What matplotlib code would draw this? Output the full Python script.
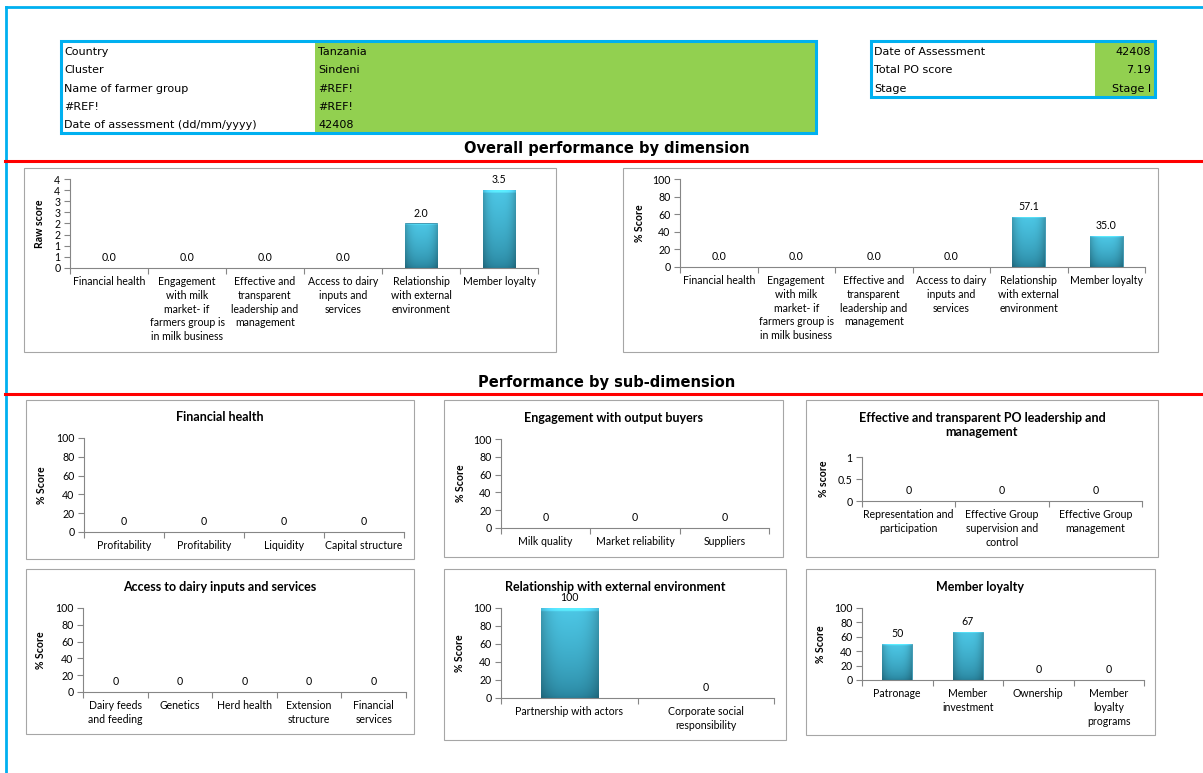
import numpy as np
import matplotlib.pyplot as plt
from matplotlib.patches import Rectangle

W, H = 1203, 773

# header tables
info_labels = ['Country', 'Cluster', 'Name of farmer group', '#REF!', 'Date of assessment (dd/mm/yyyy)']
info_values = ['Tanzania', 'Sindeni', '#REF!', '#REF!', '42408']
summary_labels = ['Date of Assessment', 'Total PO score', 'Stage']
summary_values = ['42408', '7.19', 'Stage I']

# overall performance by dimension
dim_labels = ['Financial health',
              'Engagement\nwith milk\nmarket- if\nfarmers group is\nin milk business',
              'Effective and\ntransparent\nleadership and\nmanagement',
              'Access to dairy\ninputs and\nservices',
              'Relationship\nwith external\nenvironment',
              'Member loyalty']
dim_raw = [0.0, 0.0, 0.0, 0.0, 2.0, 3.5]
dim_pct = [0.0, 0.0, 0.0, 0.0, 57.1, 35.0]

# sub-dimensions
fin_labels = ['Profitability', 'Profitability', 'Liquidity', 'Capital structure']
fin_vals = [0, 0, 0, 0]
eng_labels = ['Milk quality', 'Market reliability', 'Suppliers']
eng_vals = [0, 0, 0]
lead_labels = ['Representation and\nparticipation', 'Effective Group\nsupervision and\ncontrol',
               'Effective Group\nmanagement']
lead_vals = [0, 0, 0]
acc_labels = ['Dairy feeds\nand feeding', 'Genetics', 'Herd health', 'Extension\nstructure', 'Financial\nservices']
acc_vals = [0, 0, 0, 0, 0]
rel_labels = ['Partnership with actors', 'Corporate social\nresponsibility']
rel_vals = [100, 0]
loy_labels = ['Patronage', 'Member\ninvestment', 'Ownership', 'Member\nloyalty\nprograms']
loy_vals = [50, 67, 0, 0]

CHART_FONT = 'Lato'
HEAD_FONT = 'DejaVu Sans'
BLUE = '#00B0F0'
GREEN = '#92D050'
AXIS = '#868686'

fig = plt.figure(figsize=(W / 100, H / 100), dpi=100)


def fx(x):
    return x / W


def fy(y):
    return 1 - y / H


def box(x0, y0, x1, y1, **kw):
    fig.patches.append(Rectangle((fx(x0), fy(y1)), fx(x1) - fx(x0), fy(y0) - fy(y1),
                                 transform=fig.transFigure, **kw))


def hline(y, x0, x1, color, lw):
    fig.add_artist(plt.Line2D([fx(x0), fx(x1)], [fy(y), fy(y)], color=color, lw=lw,
                              transform=fig.transFigure))


# outer frame
fig.add_artist(plt.Line2D([fx(6), fx(6)], [fy(7), 0], color=BLUE, lw=2, transform=fig.transFigure))
hline(7, 6, W, BLUE, 2)

# info table
box(315, 41, 816, 133, facecolor=GREEN, edgecolor='none')
box(61, 41, 816, 133, facecolor='none', edgecolor=BLUE, lw=2.2)
for i, (lab, val) in enumerate(zip(info_labels, info_values)):
    y = 52 + i * 18.3
    fig.text(fx(64), fy(y), lab, fontsize=8, family=HEAD_FONT, va='center')
    fig.text(fx(318), fy(y), val, fontsize=8, family=HEAD_FONT, va='center')

# summary table
box(1095, 41, 1155, 97, facecolor=GREEN, edgecolor='none')
box(871, 41, 1155, 97, facecolor='none', edgecolor=BLUE, lw=2.2)
for i, (lab, val) in enumerate(zip(summary_labels, summary_values)):
    y = 52 + i * 18.3
    fig.text(fx(874), fy(y), lab, fontsize=8, family=HEAD_FONT, va='center')
    fig.text(fx(1151), fy(y), val, fontsize=8, family=HEAD_FONT, va='center', ha='right')

# section headers
fig.text(fx(607), fy(149), 'Overall performance by dimension', fontsize=10.5, weight='bold',
         family=HEAD_FONT, ha='center', va='center')
hline(161, 5, W, 'red', 2.2)
fig.text(fx(607), fy(383), 'Performance by sub-dimension', fontsize=10.5, weight='bold',
         family=HEAD_FONT, ha='center', va='center')
hline(394, 5, W, 'red', 2.2)


def bar_gradient(n=60):
    t = np.linspace(0, 1, n)[:, None]
    s = np.linspace(0, 1, n)[None, :]
    top = np.array([0.30, 0.78, 0.90])
    bot = np.array([0.15, 0.50, 0.60])
    col = bot + (top - bot) * (t[..., None] ** 0.6)
    shade = 1 - 0.22 * np.abs(2 * s - 1) ** 3
    col = col * shade[..., None]
    col[-2:, :, :] = np.clip(col[-2:, :, :] * 1.2, 0, 1)
    return np.clip(col, 0, 1)


GRAD = bar_gradient()


def chart(frame, axpos, labels, vals, yticks, yticklabels, ylabel, ylab_x, fmt,
          title=None, title_y=None, fs=7.6):
    bx0, by0, bx1, by1 = frame
    box(bx0, by0, bx1, by1, facecolor='white', edgecolor='#A6A6A6', lw=0.8, zorder=-1)
    ax0, atop, ax1, azero = axpos
    ax = fig.add_axes([fx(ax0), fy(azero), fx(ax1) - fx(ax0), fy(atop) - fy(azero)])
    ax.set_zorder(2)
    ax.set_facecolor('none')
    n = len(vals)
    x = np.arange(n)
    bars = ax.bar(x, vals, width=0.42, color='#35B5DA', edgecolor='#23829E', lw=0.5, zorder=2)
    for b in bars:
        if b.get_height() > 0:
            im = ax.imshow(GRAD, extent=[b.get_x(), b.get_x() + b.get_width(), 0, b.get_height()],
                           origin='lower', aspect='auto', zorder=2.5, interpolation='bilinear')
            im.set_clip_path(b)
    for xi, v in zip(x, vals):
        ax.annotate(fmt.format(v), (xi, v), xytext=(0, 3.5), textcoords='offset points',
                    ha='center', va='bottom', fontsize=fs, family=CHART_FONT)
    ax.set_xlim(-0.5, n - 0.5)
    ax.set_ylim(yticks[0], yticks[-1])
    ax.set_yticks(yticks)
    ax.set_yticklabels(yticklabels, fontsize=fs, family=CHART_FONT)
    ax.set_xticks(x)
    ax.set_xticklabels(labels, fontsize=fs, family=CHART_FONT, linespacing=1.3, va='top')
    ax.set_xticks(np.arange(-0.5, n), minor=True)
    ax.tick_params(axis='x', which='major', length=0, pad=6)
    ax.tick_params(axis='x', which='minor', length=4, color=AXIS, width=0.8)
    ax.tick_params(axis='y', length=4, color=AXIS, width=0.8, pad=3)
    for side in ['top', 'right']:
        ax.spines[side].set_visible(False)
    for side in ['left', 'bottom']:
        ax.spines[side].set_color(AXIS)
        ax.spines[side].set_linewidth(0.8)
    ax.set_ylabel(ylabel, fontsize=fs, weight='bold', family=CHART_FONT)
    ax.yaxis.set_label_coords((ylab_x - ax0) / (ax1 - ax0), 0.5)
    if title:
        fig.text(fx((bx0 + bx1) / 2), fy(title_y), title, fontsize=9, weight='bold',
                 family=CHART_FONT, ha='center', va='center', linespacing=1.3)
    return ax


raw_ticks = np.arange(0, 4.01, 0.5)
raw_ticklabels = [str(int(np.floor(t + 0.5))) for t in raw_ticks]
pct_ticks = np.arange(0, 101, 20)
pct_ticklabels = [str(t) for t in pct_ticks]

chart((24, 168, 556, 352), (70, 179, 538, 268), dim_labels, dim_raw,
      raw_ticks, raw_ticklabels, 'Raw score', 45, '{:.1f}')
chart((623, 168, 1158, 352), (680, 179, 1145, 267), dim_labels, dim_pct,
      pct_ticks, pct_ticklabels, '% Score', 645, '{:.1f}')

chart((26, 400, 414, 559), (84, 438, 404, 532), fin_labels, fin_vals,
      pct_ticks, pct_ticklabels, '% Score', 47, '{:.0f}', 'Financial health', 417)
chart((444, 400, 783, 557), (501, 439, 769, 528), eng_labels, eng_vals,
      pct_ticks, pct_ticklabels, '% Score', 466, '{:.0f}', 'Engagement with output buyers', 418)
chart((806, 400, 1158, 557), (862, 457, 1142, 501), lead_labels, lead_vals,
      [0, 0.5, 1], ['0', '0.5', '1'], '% score', 829, '{:.0f}',
      'Effective and transparent PO leadership and\nmanagement', 425)

chart((26, 569, 414, 734), (83, 608, 406, 692), acc_labels, acc_vals,
      pct_ticks, pct_ticklabels, '% Score', 46, '{:.0f}', 'Access to dairy inputs and services', 587)
chart((444, 569, 786, 740), (501, 608, 774, 698), rel_labels, rel_vals,
      pct_ticks, pct_ticklabels, '% Score', 465, '{:.0f}', 'Relationship with external environment', 587)
chart((806, 569, 1155, 735), (862, 608, 1144, 680), loy_labels, loy_vals,
      pct_ticks, pct_ticklabels, '% Score', 826, '{:.0f}', 'Member loyalty', 587)

fig.savefig('out.png', dpi=100)
